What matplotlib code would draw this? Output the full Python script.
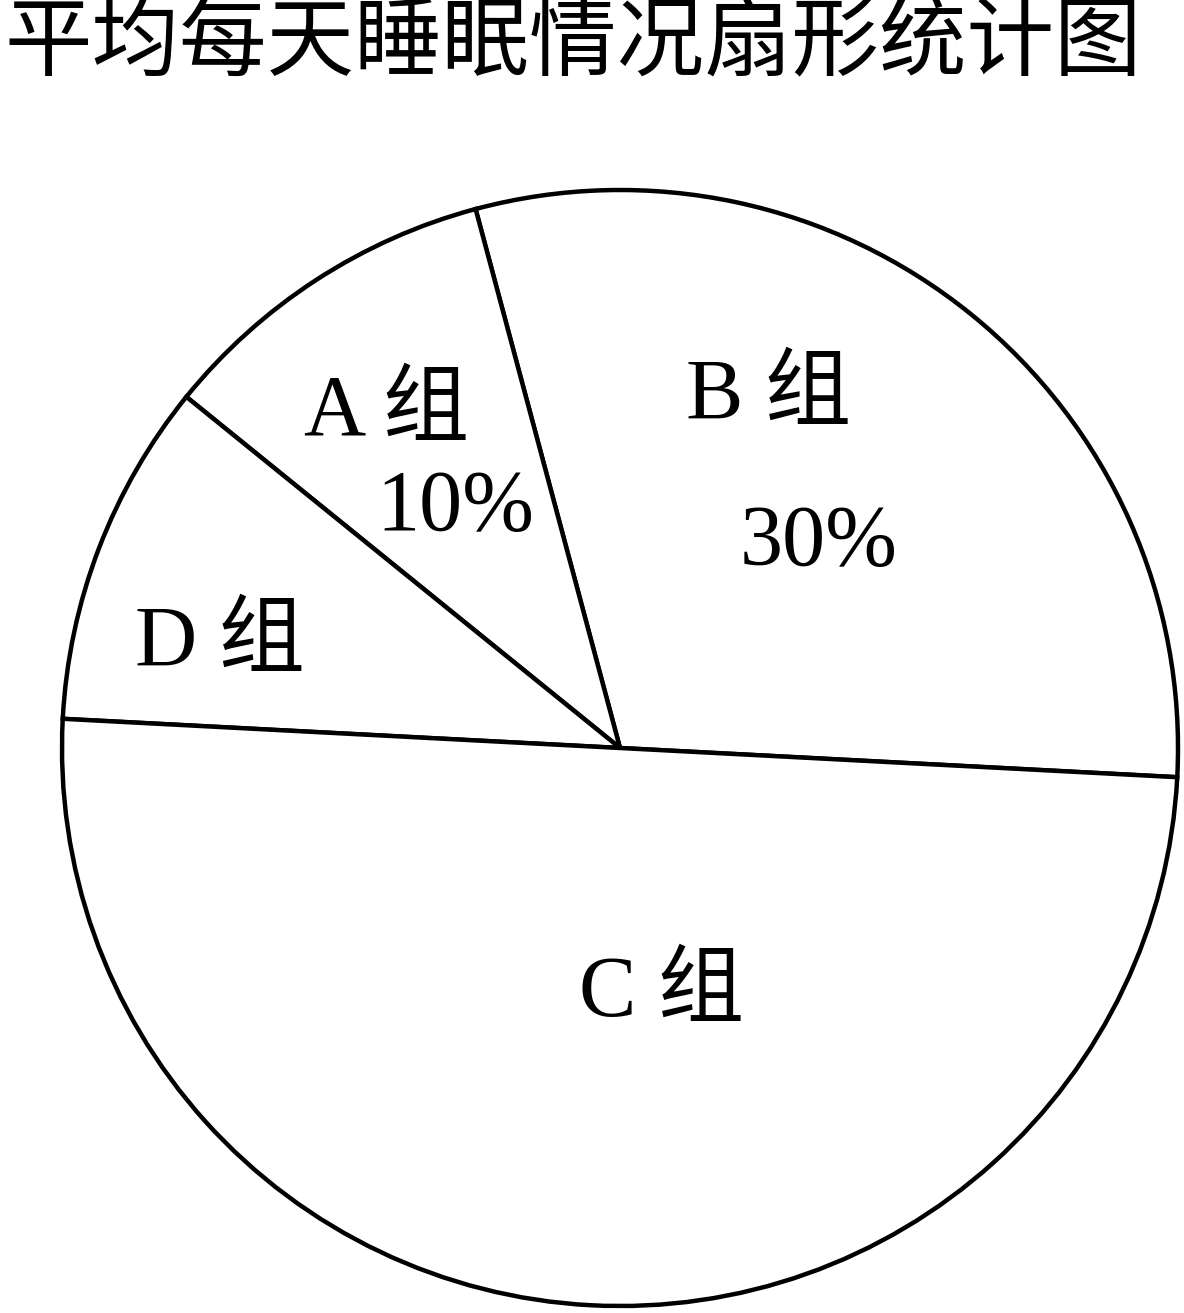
import numpy as np
import matplotlib
matplotlib.use('Agg')
import matplotlib.pyplot as plt

plt.rcParams['font.family'] = ['Liberation Serif', 'Noto Sans CJK SC']

title = '平均每天睡眠情况扇形统计图'
groups = ['B', 'A', 'D', 'C']
shares = [30, 10, 10, 50]
labels = ['B 组', 'A 组', 'D 组', 'C 组']
show_pct = [True, True, False, False]

W, H = 1184, 1313
R_PX = 558.0
CX, CY = 620.0, 565.0   # pie centre in pixels, from bottom-left

fig = plt.figure(figsize=(W / 100, H / 100), dpi=100)
ax = fig.add_axes([0, 0, 1, 1])

wedges, _ = ax.pie(shares, startangle=-3, counterclock=True, radius=1.0,
                   center=(0, 0), frame=True,
                   wedgeprops=dict(facecolor='white', edgecolor='black', linewidth=3.2))
ax.set_xlim(-CX / R_PX, (W - CX) / R_PX)
ax.set_ylim(-CY / R_PX, (H - CY) / R_PX)
ax.set_aspect('auto')
ax.axis('off')

# label anchors (radius fraction, angle in degrees) for name and percent
name_pos = {'B': (0.68, 67), 'A': (0.73, 125), 'D': (0.74, 165.6), 'C': (0.45, 279.6)}
pct_pos = {'B': (0.51, 45.7), 'A': (0.52, 124.5)}

for g, lab, sh, sp in zip(groups, labels, shares, show_pct):
    r, a = name_pos[g]
    ax.text(r * np.cos(np.radians(a)), r * np.sin(np.radians(a)), lab,
            ha='center', va='center', fontsize=62)
    if sp:
        r, a = pct_pos[g]
        ax.text(r * np.cos(np.radians(a)), r * np.sin(np.radians(a)), f'{sh}%',
                ha='center', va='center', fontsize=62)

fig.text(0.004, 1 - 46 / H, title, ha='left', va='center', fontsize=63)

plt.savefig('out.png', dpi=100)
